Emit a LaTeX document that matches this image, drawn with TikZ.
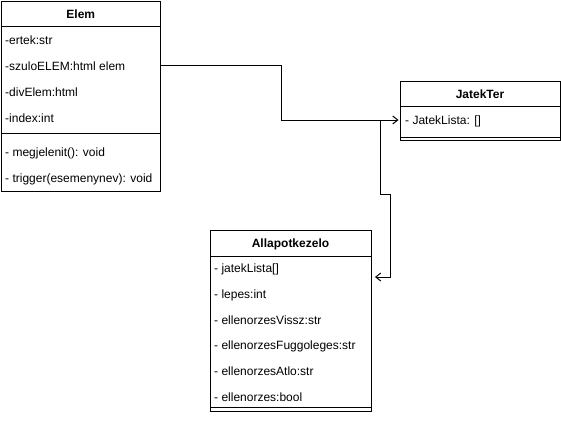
\documentclass[tikz,border=0pt]{standalone}
\usepackage{fontspec}
\setmainfont{Liberation Sans}
\usetikzlibrary{arrows.meta}
\begin{document}
\begin{tikzpicture}[x=1pt,y=-1pt,
  box/.style={draw=black,line width=1pt,fill=white,rectangle,anchor=north west,inner sep=0pt,outer sep=0pt},
  sepline/.style={draw=black,line width=1pt},
  title/.style={font=\fontsize{12}{14}\selectfont\bfseries,inner sep=0pt,anchor=base},
  attr/.style={font=\fontsize{12}{14}\selectfont,inner sep=0pt,anchor=base west},
  conn/.style={draw=black,line width=1pt,-{Straight Barb[length=5pt,width=8pt,line width=1pt]}},
  plain/.style={draw=black,line width=1pt}]
\useasboundingbox (0,0) rectangle (561,421);
% Elem
\node[box,minimum width=159.5pt,minimum height=190pt] (elem) at (1,1) {};
\draw[sepline] (1,26) -- (160.5,26);
\draw[sepline] (1,133) -- (160.5,133);
\node[title] (elemt) at (80.75,18.5) {Elem};
\node[attr] (e1) at (5,44) {-ertek:str};
\node[attr] (e2) at (5,70) {-szuloELEM:html elem};
\node[attr] (e3) at (5,96) {-divElem:html};
\node[attr] (e4) at (5,122) {-index:int};
\node[attr] (e5) at (5,156) {- megjelenit(): void};
\node[attr] (e6) at (5,182) {- trigger(esemenynev): void};
% JatekTer
\node[box,minimum width=160pt,minimum height=59pt] (jt) at (400,81) {};
\draw[sepline] (400,106) -- (560,106);
\draw[sepline] (400,137) -- (560,137);
\node[title] (jtt) at (480,98) {JatekTer};
\node[attr] (j1) at (405,124) {- JatekLista: []};
% Allapotkezelo
\node[box,minimum width=161pt,minimum height=181pt] (ak) at (210,230) {};
\draw[sepline] (210,256) -- (371,256);
\draw[sepline] (210,407) -- (371,407);
\node[title] (akt) at (290.5,247.5) {Allapotkezelo};
\node[attr] (a1) at (214,272.5) {- jatekLista[]};
\node[attr] (a2) at (214,298.3) {- lepes:int};
\node[attr] (a3) at (214,324.1) {- ellenorzesVissz:str};
\node[attr] (a4) at (214,349.9) {- ellenorzesFuggoleges:str};
\node[attr] (a5) at (214,375.7) {- ellenorzesAtlo:str};
\node[attr] (a6) at (214,401.5) {- ellenorzes:bool};
% connectors
\coordinate (s1) at (160.5,65);
\coordinate (b1) at (281,65);
\coordinate (b2) at (281,120);
\coordinate (jn) at (380.5,120);
\coordinate (c1) at (380.5,194);
\coordinate (c2) at (390.5,194);
\coordinate (c3) at (390.5,277);
\draw[conn,shorten >=1.5pt] (s1) -- (b1) -- (b2) -- (jt.west |- b2);
\draw[conn,shorten >=4pt] (jn) -- (c1) -- (c2) -- (c3) -- (ak.east |- c3);
\end{tikzpicture}
\end{document}
